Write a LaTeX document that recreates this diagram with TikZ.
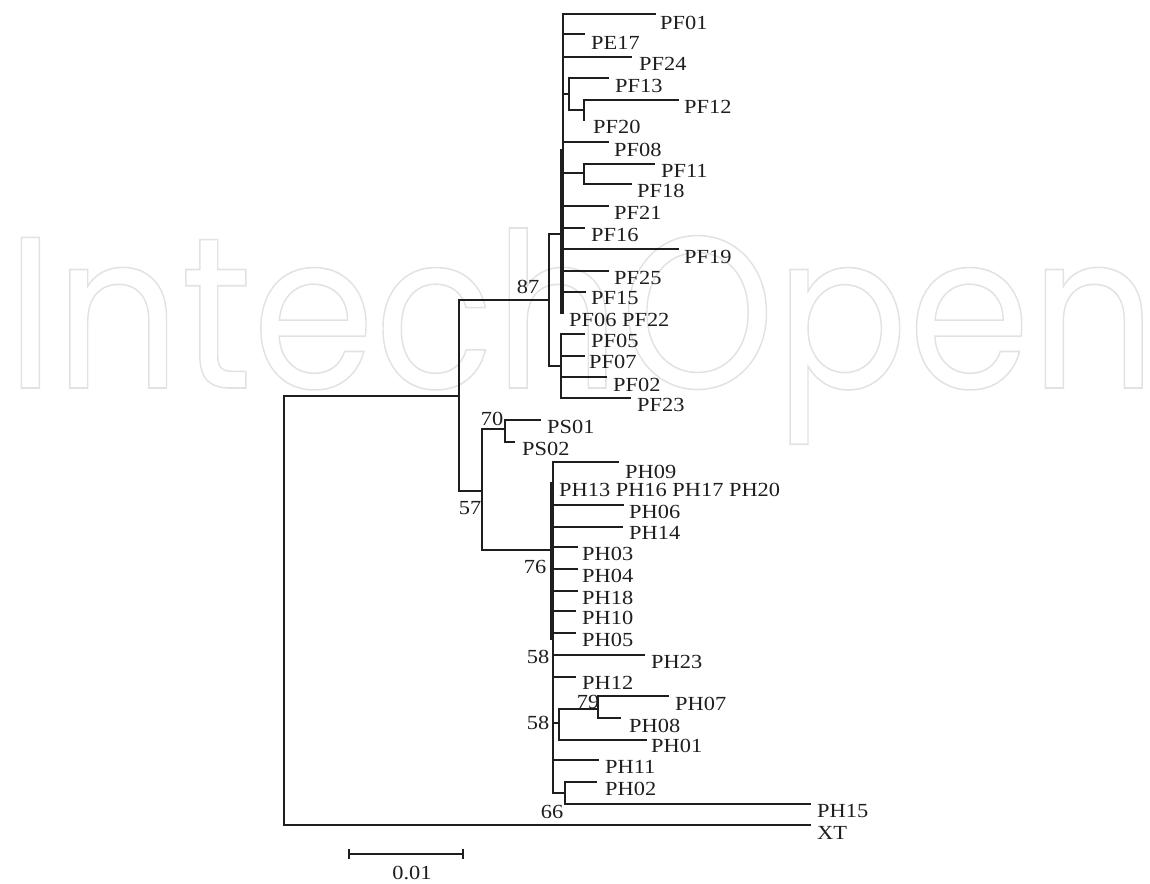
\documentclass[tikz,border=0pt]{standalone}
\usepackage{fontspec}
\usepackage{graphicx}
\setmainfont{Liberation Serif}[FakeStretch=1.12]
\newfontfamily\wmfont{Poppins}
\definecolor{wmgray}{RGB}{226,226,226}
\definecolor{ink}{RGB}{30,30,30}
\tikzset{
  br/.style={line width=2.2pt, draw=ink, line cap=rect},
  lab/.style={anchor=base west, inner sep=0pt, text=ink},
  bs/.style={anchor=center, inner sep=0pt, text=ink}
}
% leaf: name, x0, y, x1, label x, label centre y, text
\newcommand\lf[7]{%
  \coordinate (#1-s) at (#2,-#3);
  \coordinate (#1-e) at (#4,-#3);
  \draw[br] (#1-s) -- (#1-e);
  \node[lab] (#1) at (#5,{-(#6+6.5)}) {#7};}
% zero-length leaf: name, label x, centre y, text
\newcommand\zl[4]{\node[lab] (#1) at (#2,{-(#3+6.5)}) {#4};}
% vertical of an internal node: name, x, ytop, ybottom
\newcommand\vt[4]{%
  \coordinate (#1-t) at (#2,-#3);
  \coordinate (#1-b) at (#2,-#4);
  \draw[br] (#1-t) -- (#1-b);}
% horizontal internal edge: name, x0, x1, y
\newcommand\hz[4]{%
  \coordinate (#1-a) at (#2,-#4);
  \coordinate (#1-z) at (#3,-#4);
  \draw[br] (#1-a) -- (#1-z);}
\begin{document}
\begin{tikzpicture}[x=1pt,y=1pt,font=\fontsize{20}{24}\selectfont]
\useasboundingbox (0,0) rectangle (1150,-883);
% watermark
\node[anchor=base west, inner sep=0pt, text=wmgray] (wm) at (6,-388)
  {\special{pdf:literal 1 Tr 1.6 w}\resizebox{1150pt}{160pt}{\wmfont\fontsize{220}{220}\selectfont IntechOpen}};
% internal verticals
\vt{R}{284}{396}{825}
\vt{A}{459}{300}{491}
\vt{B}{549}{234}{366}
\vt{C}{563}{14}{313}
\vt{Cx}{561}{150}{313}
\vt{D}{569}{78}{110}
\vt{E}{584}{100}{120}
\vt{F}{584}{164}{184}
\vt{G}{561}{334}{398}
\vt{H}{482}{429}{550}
\vt{I}{505}{420}{442}
\vt{J}{553}{462}{793}
\vt{Jx}{551}{483}{639}
\vt{K}{559}{709}{740}
\vt{L}{598}{696}{718}
\vt{M}{565}{782}{804}
% internal horizontals
\hz{RA}{284}{459}{396}
\hz{AB}{459}{549}{300}
\hz{AH}{459}{482}{491}
\hz{BC}{549}{562}{234}
\hz{BG}{549}{561}{366}
\hz{CD}{563}{569}{94}
\hz{DE}{569}{584}{110}
\hz{CF}{563}{584}{173}
\hz{HI}{482}{505}{429}
\hz{HJ}{482}{552}{550}
\hz{JK}{553}{559}{723}
\hz{KL}{559}{598}{709}
\hz{JM}{553}{565}{793}
% PF leaves
\lf{PF01}{563}{14}{655}{660}{23}{PF01}
\lf{PE17}{563}{34}{584}{591}{43}{PE17}
\lf{PF24}{563}{57}{631}{639}{64}{PF24}
\lf{PF13}{569}{78}{608}{615}{86}{PF13}
\lf{PF12}{584}{100}{678}{684}{107}{PF12}
\zl{PF20}{593}{127}{PF20}
\lf{PF08}{563}{142}{608}{614}{150}{PF08}
\lf{PF11}{584}{164}{654}{661}{171}{PF11}
\lf{PF18}{584}{184}{631}{637}{191}{PF18}
\lf{PF21}{563}{206}{608}{614}{213}{PF21}
\lf{PF16}{563}{228}{584}{591}{235}{PF16}
\lf{PF19}{563}{249}{678}{684}{257}{PF19}
\lf{PF25}{563}{271}{608}{614}{278}{PF25}
\lf{PF15}{563}{292}{585}{591}{298}{PF15}
\zl{PF06}{569}{320}{PF06 PF22}
\lf{PF05}{561}{334}{584}{591}{341}{PF05}
\lf{PF07}{561}{356}{584}{589}{362}{PF07}
\lf{PF02}{561}{377}{606}{613}{385}{PF02}
\lf{PF23}{561}{398}{630}{637}{405}{PF23}
% PS leaves
\lf{PS01}{505}{420}{540}{547}{427}{PS01}
\lf{PS02}{505}{442}{514}{522}{449}{PS02}
% PH leaves
\lf{PH09}{553}{462}{618}{625}{472}{PH09}
\zl{PH13}{559}{490}{PH13 PH16 PH17 PH20}
\lf{PH06}{553}{505}{623}{629}{512}{PH06}
\lf{PH14}{553}{527}{622}{629}{533}{PH14}
\lf{PH03}{553}{547}{577}{582}{554}{PH03}
\lf{PH04}{553}{569}{577}{582}{576}{PH04}
\lf{PH18}{553}{591}{577}{582}{598}{PH18}
\lf{PH10}{553}{611}{575}{582}{618}{PH10}
\lf{PH05}{553}{633}{575}{582}{640}{PH05}
\lf{PH23}{553}{655}{644}{651}{662}{PH23}
\lf{PH12}{553}{677}{575}{582}{683}{PH12}
\lf{PH07}{598}{696}{668}{675}{704}{PH07}
\lf{PH08}{598}{718}{620}{629}{726}{PH08}
\lf{PH01}{559}{740}{646}{651}{746}{PH01}
\lf{PH11}{553}{760}{598}{605}{767}{PH11}
\lf{PH02}{565}{782}{596}{605}{789}{PH02}
\lf{PH15}{565}{804}{810}{817}{811}{PH15}
\lf{XT}{284}{825}{810}{817}{833}{XT}
% bootstrap values
\node[bs] (b87) at (528,-287) {87};
\node[bs] (b70) at (492,-419) {70};
\node[bs] (b57) at (470,-508) {57};
\node[bs] (b76) at (535,-567) {76};
\node[bs] (b58a) at (538,-657) {58};
\node[bs] (b58b) at (538,-723) {58};
\node[bs] (b79) at (588,-702) {79};
\node[bs] (b66) at (552,-812) {66};
% scale bar
\coordinate (sb1) at (349,-854);
\coordinate (sb2) at (463,-854);
\draw[br, line width=1.8pt] (sb1) -- (sb2);
\draw[br, line width=1.6pt] ([yshift=4pt]sb1) -- ([yshift=-4pt]sb1);
\draw[br, line width=1.6pt] ([yshift=4pt]sb2) -- ([yshift=-4pt]sb2);
\node[bs] (sbl) at (412,-873) {0.01};
\end{tikzpicture}
\end{document}
